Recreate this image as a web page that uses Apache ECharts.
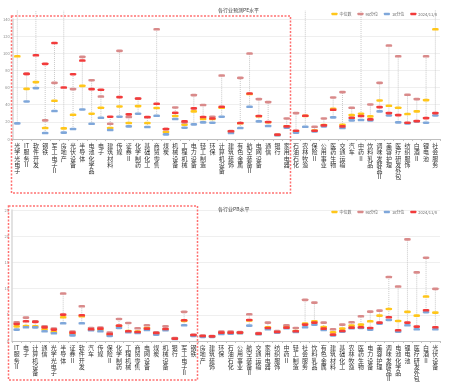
<!DOCTYPE html>
<html>
<head>
<meta charset="utf-8">
<script src="https://cdn.jsdelivr.net/npm/echarts@6/dist/echarts.min.js"></script>
<style>html,body{margin:0;padding:0;background:#fff;}#c{width:466px;height:392px;}</style>
</head>
<body>
<div id="c"></div>
<script>
// ---------- Top chart: 各行业预测PE水平 ----------
const peCats = ['光学光电子','IT服务Ⅱ','软件开发','钢铁','军工电子Ⅱ','房地产','光伏设备','半导体','电池化学品','电子','建筑材料','传媒','证券Ⅱ','化学制药','基础化工','商贸零售','煤炭','机械设备','工程机械','电力设备','轻工制造','环保','计算机设备','建筑装饰','有色金属','航空装备Ⅱ','电网设备','通信','银行','家用电器','石油石化','农林牧渔','保险Ⅱ','公用事业','医药生物','交通运输','汽车','中药Ⅱ','饮料乳品','调味发酵品Ⅱ','美容护理','医疗研发外包','纺织服饰','白酒Ⅱ','锂电池','社会服务'];
const peP90 = [150,76,150,21.7,65.5,150,58.2,95.8,68.6,49.6,17.8,102.8,25.6,47.0,25.4,128,11.5,36.8,19.4,51.2,39.6,26.0,74.1,9.2,71.3,99.7,46.5,43.0,5.2,24.0,30.2,150,14.3,24.0,48.5,54.7,36.4,150,40.3,65.5,109,96.5,51.6,46.5,96.5,150];
const peMedian = [96.5,58.5,66.3,12.8,44.6,12.4,28.3,62.0,29.5,36.4,12.8,38.0,18.6,38.4,18.6,36.1,8.1,26.8,16.7,32.2,23.3,23.3,36.4,8.5,18.4,52.5,26.5,19.6,4.8,14.9,9.0,27.0,10.0,16.3,35.3,16.7,27.9,29.5,26.4,45.0,38.8,36.4,29.1,32.2,45.4,128];
const peP10 = [18.2,43.8,59.3,7.0,32.6,7.4,11.6,34.5,17.8,24.8,10.5,26.0,14.7,29.5,14.0,27.1,5.4,23.3,13.2,17.1,19.4,19.0,26.0,7.0,12.8,37.6,20.6,15.1,4.3,13.2,7.4,14.3,8.9,14.7,25.2,12.8,21.7,22.1,21.7,32.2,27.5,19.4,18.2,20.5,19.0,27.5];
const peNow = [145,76,97.7,87.6,112,60.1,75.6,91.5,58.2,57.4,26.0,48.9,28.7,47.3,25.6,41.1,11.6,30.6,20.6,35.7,25.6,24.0,37.6,9.0,18.6,53.1,26.8,19.8,5.0,14.7,9.7,27.1,9.7,15.9,34.1,14.7,24.8,26.8,22.9,37.2,30.2,27.9,19.0,20.9,24.4,30.2];
const peTicks = [0,20,40,60,80,100,120,140];

// ---------- Bottom chart: 各行业PB水平 ----------
const pbCats = ['IT服务Ⅱ','电子','计算机设备','通信','光学光电子','半导体','证券Ⅱ','软件开发','汽车','传媒','保险Ⅱ','化学制药','工程机械','商贸零售','电网设备','煤炭','机械设备','银行','军工电子Ⅱ','钢铁','房地产','建筑装饰','环保','石油石化','公用事业','航空装备Ⅱ','交通运输','家用电器','纺织服饰','中药Ⅱ','轻工制造','社会服务','饮料乳品','有色金属','建筑材料','基础化工','农林牧渔','医药生物','电力设备','美容护理','调味发酵品Ⅱ','电池化学品','锂电池','医疗研发外包','白酒Ⅱ','光伏设备'];
const pbP90 = [3.57,4.46,3.75,2.8,2.36,9.06,1.79,6.63,2.49,2.55,1.6,4.21,3.44,2.42,3.0,1.65,2.8,0.57,5.55,1.2,1.05,0.95,1.79,1.79,1.7,5.1,1.5,3.5,1.91,3.0,2.49,7.84,7.33,3.5,2.23,3.13,3.57,4.72,5.61,5.8,12.2,10.4,19.4,13.1,15.9,9.95];
const pbMedian = [2.8,2.87,2.8,2.23,1.72,4.53,1.34,4.72,2.15,2.17,1.21,2.85,1.9,1.8,2.45,1.45,2.2,0.5,3.85,1.1,0.9,0.85,1.55,1.5,1.55,3.9,1.35,2.6,1.78,2.74,1.9,3.32,3.76,2.68,1.66,2.36,2.93,3.13,3.76,4.85,6.12,3.83,5.55,4.85,8.48,5.42];
const pbP10 = [2.17,2.61,2.6,1.85,1.47,3.38,1.08,3.38,2.04,1.85,0.96,2.49,1.66,1.53,2.1,1.21,2.04,0.38,3.0,0.96,0.77,0.77,1.34,1.4,1.47,2.93,1.28,2.23,1.6,2.42,1.72,2.61,3.13,2.1,1.08,1.79,2.42,2.49,2.17,3.32,4.02,1.79,3.0,2.23,5.5,2.23];
const pbNow = [3.25,3.76,3.65,2.6,2.17,5.04,1.6,4.91,2.23,2.36,1.34,2.93,1.85,1.72,2.36,1.53,2.3,0.45,3.95,1.15,0.96,0.89,1.6,1.6,1.6,4.02,1.4,2.49,1.72,2.55,1.85,3.13,3.5,2.36,1.21,1.91,2.55,2.61,2.49,3.5,4.53,2.04,3.5,2.74,5.87,2.61];
const pbTicks = [0,5,10,15,20,25];

const legendNames = ['中位数','90分位','10分位','2024/11/8'];
const titles = ['各行业预测PE水平','各行业PB水平'];

const FONT = '"Noto Sans CJK SC", "Noto Sans", sans-serif';
const COLORS = {'中位数':'#FFC61A','90分位':'#D98A8A','10分位':'#7FA7DA','2024/11/8':'#F23B3B'};

function vert(s){
  const toks = s.match(/[A-Za-z0-9]+|./g) || [];
  return toks.join('\n');
}

function rangeData(a,b,c,d){
  return a.map((v,i)=>{
    const vals=[a[i],b[i],c[i],d[i]];
    return [i, Math.min.apply(null,vals), Math.max.apply(null,vals)];
  });
}

function rangeSeries(idx, data){
  return {
    type:'custom', xAxisIndex:idx, yAxisIndex:idx, silent:true, clip:false, z:1,
    data:data,
    renderItem:function(params, api){
      const p1 = api.coord([api.value(0), api.value(1)]);
      const p2 = api.coord([api.value(0), api.value(2)]);
      return {type:'line', shape:{x1:p1[0],y1:p1[1],x2:p2[0],y2:p2[1]},
        style:{stroke:'#c9c9c9', lineWidth:1, lineDash:[1,1]}};
    }
  };
}

function markSeries(idx, name, data){
  return {
    type:'scatter', name:name, xAxisIndex:idx, yAxisIndex:idx, data:data,
    symbol:'roundRect', symbolSize:[6.5,2.6], clip:true, z:3,
    itemStyle:{color:COLORS[name], opacity:1},
    emphasis:{disabled:true}
  };
}

function xAxisCfg(idx, cats){
  return {
    type:'category', gridIndex:idx, data:cats,
    axisLine:{lineStyle:{color:'#bfbfbf', width:1}},
    axisTick:{show:true, length:2, lineStyle:{color:'#bfbfbf'}},
    axisLabel:{interval:0, rotate:0, hideOverlap:false, margin:4, fontFamily:FONT, fontSize:6, lineHeight:6.1, color:'#333',
      formatter:function(v){return vert(v);}, verticalAlign:'top', align:'center'}
  };
}
function yAxisCfg(idx, ticks){
  return {
    type:'value', gridIndex:idx, min:ticks[0], max:ticks[ticks.length-1], interval:ticks[1]-ticks[0],
    axisLine:{show:true, lineStyle:{color:'#d9d9d9', width:1.5}},
    axisTick:{show:false},
    splitLine:{lineStyle:{color:'#efefef', width:1}},
    axisLabel:{fontFamily:FONT, fontSize:4, color:'#8c8c8c', margin:3}
  };
}

const chart = echarts.init(document.getElementById('c'), null, {renderer:'canvas'});
const option = {
  animation:false,
  backgroundColor:'#fff',
  title:[
    {text:titles[0], left:213, top:3, textStyle:{fontFamily:FONT, fontSize:5, fontWeight:'normal', color:'#404040'}},
    {text:titles[1], left:213, top:202, textStyle:{fontFamily:FONT, fontSize:5, fontWeight:'normal', color:'#404040'}}
  ],
  legend:[
    {data:legendNames, right:24, top:7, icon:'roundRect', itemWidth:6, itemHeight:2.5, itemGap:6,
     textStyle:{fontFamily:FONT, fontSize:4, color:'#666', padding:[0,0,0,-3]}},
    {data:legendNames, right:24, top:205, icon:'roundRect', itemWidth:6, itemHeight:2.5, itemGap:6,
     textStyle:{fontFamily:FONT, fontSize:4, color:'#666', padding:[0,0,0,-3]}}
  ],
  grid:[
    {left:12, top:19, width:428, height:120},
    {left:12, top:210, width:428, height:131}
  ],
  xAxis:[xAxisCfg(0, peCats), xAxisCfg(1, pbCats)],
  yAxis:[yAxisCfg(0, peTicks), yAxisCfg(1, pbTicks)],
  series:[
    rangeSeries(0, rangeData(peP90, peMedian, peP10, peNow)),
    markSeries(0, '中位数', peMedian),
    markSeries(0, '90分位', peP90),
    markSeries(0, '10分位', peP10),
    markSeries(0, '2024/11/8', peNow),
    rangeSeries(1, rangeData(pbP90, pbMedian, pbP10, pbNow)),
    markSeries(1, '中位数', pbMedian),
    markSeries(1, '90分位', pbP90),
    markSeries(1, '10分位', pbP10),
    markSeries(1, '2024/11/8', pbNow)
  ],
  graphic:[
    {type:'rect', shape:{x:11.5, y:16, width:279, height:177}, z:100, silent:true,
     style:{fill:'none', stroke:'#FF7070', lineWidth:1.5, lineDash:[2,1.5]}},
    {type:'rect', shape:{x:8.5, y:206, width:189, height:174}, z:100, silent:true,
     style:{fill:'none', stroke:'#FF7070', lineWidth:1.5, lineDash:[2,1.5]}}
  ]
};
chart.setOption(option);
</script>
</body>
</html>
